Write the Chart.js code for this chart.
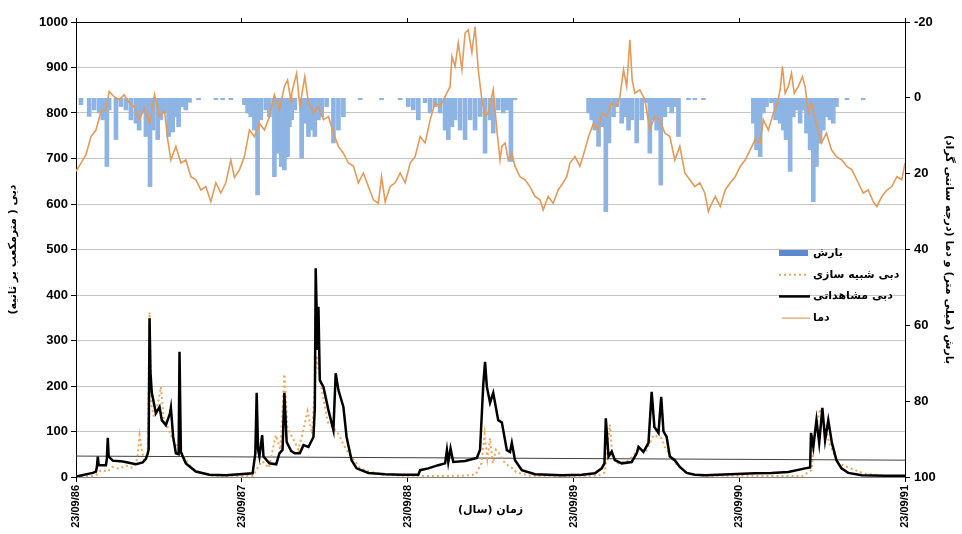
<!DOCTYPE html>
<html>
<head>
<meta charset="utf-8">
<script src="https://cdn.jsdelivr.net/npm/chart.js@4.4.1/dist/chart.umd.min.js"></script>
<style>
  body { margin: 0; background: #fff; }
  #wrap { width: 962px; height: 534px; }
</style>
</head>
<body>
<div id="wrap"><canvas id="flowChart" width="962" height="534"></canvas></div>
<script>
// x is days since 23/09/86
const dayTicks = [0, 365, 731, 1096, 1461, 1826];
const tickLabels = ['23/09/86', '23/09/87', '23/09/88', '23/09/89', '23/09/90', '23/09/91'];

const seriesLabels = ['بارش', 'دبی شبیه سازی', 'دبی مشاهداتی', 'دما'];

// observed discharge (m3/s)
const obsDays = [0, 37, 44, 46, 48, 50, 66, 68, 70, 72, 81, 103, 132, 147, 154, 158, 160, 162, 164, 167,
  176, 184, 189, 198, 207, 209, 214, 220, 226, 228, 231, 242, 264, 294, 330, 389, 395, 398, 401, 404,
  410, 413, 426, 441, 448, 455, 459, 464, 474, 482, 493, 501, 512, 523, 526, 528, 532, 534, 537, 545,
  556, 567, 572, 578, 589, 596, 607, 618, 644, 681, 717, 754, 758, 776, 798, 813, 817, 820, 825, 831,
  857, 883, 890, 897, 901, 905, 912, 919, 930, 938, 949, 956, 960, 967, 982, 1011, 1070, 1114, 1143, 1158,
  1164, 1167, 1173, 1180, 1187, 1202, 1224, 1235, 1239, 1250, 1261, 1268, 1274, 1283, 1289, 1294, 1301, 1308, 1319, 1330,
  1345, 1363, 1386, 1496, 1532, 1569, 1606, 1617, 1619, 1624, 1631, 1637, 1644, 1650, 1657, 1665, 1675, 1686, 1701, 1731,
  1782, 1826];
const obsFlow = [1, 9, 12, 22, 45, 26, 26, 40, 86, 45, 36, 34, 28, 32, 40, 52, 60, 349, 230, 185,
  140, 154, 125, 114, 140, 152, 88, 52, 50, 275, 55, 30, 12, 5, 4, 8, 52, 185, 60, 45,
  92, 45, 30, 28, 52, 60, 185, 77, 57, 52, 52, 70, 66, 88, 150, 459, 279, 374, 213, 198,
  147, 103, 228, 191, 154, 88, 37, 19, 9, 6, 5, 5, 15, 19, 26, 30, 59, 33, 63, 33,
  35, 42, 60, 202, 253, 198, 163, 185, 125, 120, 59, 55, 75, 37, 15, 6, 4, 5, 8, 19,
  30, 129, 45, 56, 37, 30, 33, 52, 66, 55, 75, 187, 110, 97, 176, 100, 88, 45, 37, 22,
  9, 5, 4, 8, 9, 11, 19, 21, 97, 66, 125, 75, 152, 81, 125, 75, 37, 19, 9, 4,
  3, 3];

// simulated discharge (m3/s)
const simDays = [0, 37, 45, 55, 70, 80, 95, 110, 125, 135, 140, 145, 150, 158, 162, 166, 172, 180, 187, 193,
  200, 210, 220, 230, 240, 255, 270, 300, 390, 400, 410, 425, 440, 450, 459, 466, 478, 490, 500, 510,
  520, 530, 535, 545, 555, 565, 575, 585, 595, 607, 625, 645, 680, 720, 800, 850, 880, 893, 900, 906,
  912, 918, 925, 930, 945, 960, 970, 1000, 1150, 1165, 1176, 1182, 1195, 1215, 1240, 1255, 1272, 1290, 1297, 1320,
  1348, 1380, 1600, 1620, 1628, 1639, 1650, 1661, 1679, 1709, 1738, 1780, 1826];
const simFlow = [0, 2, 5, 15, 12, 22, 18, 25, 20, 40, 92, 60, 35, 50, 362, 160, 130, 160, 198, 130,
  115, 90, 70, 60, 40, 20, 10, 3, 2, 20, 35, 20, 92, 60, 226, 105, 85, 60, 100, 145,
  95, 267, 230, 170, 120, 110, 100, 80, 60, 45, 20, 12, 5, 3, 2, 3, 5, 30, 95, 40,
  85, 30, 60, 55, 30, 20, 10, 3, 3, 10, 115, 40, 30, 35, 60, 55, 92, 85, 66, 30,
  8, 3, 2, 15, 97, 150, 110, 70, 30, 18, 7, 2, 1];

// temperature (deg C), right axis
const tempDays = [0, 11, 22, 33, 44, 55, 66, 73, 84, 95, 106, 117, 128, 139, 151, 162, 173, 184, 195, 202,
  209, 220, 231, 242, 253, 264, 275, 286, 297, 308, 319, 330, 341, 349, 360, 371, 382, 393, 404, 415,
  426, 437, 448, 459, 466, 474, 475, 486, 493, 504, 512, 523, 534, 545, 556, 567, 578, 589, 600, 611,
  622, 633, 644, 655, 666, 673, 681, 692, 703, 714, 725, 736, 747, 758, 769, 780, 791, 802, 813, 824,
  828, 835, 842, 850, 857, 864, 872, 879, 886, 894, 901, 908, 919, 927, 934, 938, 945, 952, 960, 967,
  978, 989, 1000, 1011, 1022, 1029, 1040, 1051, 1062, 1073, 1081, 1088, 1099, 1110, 1121, 1129, 1140, 1151, 1158, 1169,
  1180, 1191, 1198, 1206, 1213, 1220, 1225, 1231, 1242, 1253, 1264, 1275, 1286, 1297, 1308, 1319, 1330, 1341, 1352, 1363,
  1374, 1385, 1393, 1397, 1408, 1419, 1430, 1441, 1452, 1463, 1474, 1485, 1496, 1507, 1514, 1525, 1536, 1543, 1551, 1556,
  1562, 1569, 1576, 1582, 1591, 1600, 1606, 1613, 1620, 1631, 1642, 1653, 1664, 1675, 1687, 1698, 1709, 1723, 1734, 1745,
  1756, 1764, 1775, 1786, 1797, 1808, 1819, 1826];
const tempC = [19.4, 17.2, 15, 10.2, 8.5, 3.6, 3.2, -1.7, -0.3, 0.5, -0.8, 1.3, 2.3, 5.8, 2.7, 6.7, -0.8, 4.9, 3.6, 11,
  16.4, 12.8, 17.2, 16.4, 20.8, 21.6, 24.3, 23.4, 27.4, 22.4, 25.1, 22.4, 16.4, 21, 19, 15.5, 8.5, 10.2, 6.7, 8.5,
  4.9, -0.8, 3.2, -3, -4.7, 1.3, -1.2, -6.5, 2.3, -5.6, 1.3, 4, 2.3, 5.8, 4.9, 9.3, 12.8, 14.6, 17.2, 18,
  22.4, 19.8, 23.4, 26.9, 27.8, 20.8, 27.4, 23.4, 22.4, 19.8, 22.4, 17.2, 15.5, 10.2, 11.9, 5.8, 1.3, 2.3, -0.3, -3,
  -10.9, -8.3, -14.5, -7.4, -17.1, -17.9, -12, -18.8, -7.4, 0.5, 4.9, 4, -2.1, 8.5, 16.4, 12.8, 11.9, 16.4, 14.6, 18.1,
  20.8, 21.6, 23.4, 26, 26.9, 29.6, 26, 27.8, 24.3, 22.4, 20.8, 17.2, 15.5, 18.1, 13.7, 10.2, 6.7, 8.5, 4, 4.9,
  1.3, 2.3, -0.3, -7.4, -3, -15.3, -4.7, -1.2, -2.1, 0.5, 8.5, 4.9, 5.8, 9.3, 10.2, 16.4, 12.8, 19.8, 21.6, 23.4,
  22.4, 25.1, 30, 28.7, 26, 28.7, 24.3, 22.4, 20.8, 18.1, 16.4, 13.7, 11, 11.9, 5.8, 8.5, 4, 2.3, -2.1, -8.3,
  -1.2, -3, -6.5, -1.2, -3, -5.6, -3, 4, 1.3, 6.7, 11.9, 9.3, 13.7, 15.5, 16.4, 18.1, 19, 22.4, 25.1, 24.3,
  27.4, 28.7, 26, 24.3, 23.4, 20.8, 21.6, 17.2];

// daily precipitation (mm), right axis
const rainDays = [11, 29, 40, 51, 59, 68, 73, 88, 99, 110, 121, 132, 139, 147, 154, 163, 170, 180, 187, 195,
  204, 213, 220, 226, 235, 242, 250, 270, 308, 323, 341, 371, 378, 385, 393, 400, 407, 418, 426, 437,
  444, 452, 459, 466, 470, 475, 482, 497, 504, 512, 519, 526, 534, 541, 552, 567, 578, 589, 626, 673,
  714, 732, 743, 754, 769, 780, 791, 802, 813, 820, 828, 835, 846, 857, 868, 879, 890, 901, 912, 919,
  930, 941, 949, 958, 967, 1129, 1136, 1143, 1151, 1158, 1167, 1174, 1184, 1191, 1202, 1209, 1217, 1224, 1235, 1246,
  1257, 1264, 1272, 1279, 1288, 1297, 1305, 1312, 1319, 1327, 1349, 1363, 1382, 1492, 1499, 1507, 1514, 1521, 1532, 1541,
  1551, 1558, 1564, 1573, 1580, 1587, 1595, 1602, 1609, 1617, 1624, 1631, 1639, 1646, 1653, 1661, 1668, 1675, 1698, 1734];
const rainMm = [1.8, 4.9, 3.2, 4, 5.8, 18.1, 3.2, 11, 2.3, 3.2, 5.8, 6.7, 8.5, 4, 10.2, 23.4, 8.5, 11, 5.8, 4,
  10.2, 9, 5, 7.6, 2.3, 3.2, 1.2, 0.5, 0.5, 0.5, 0.5, 1.8, 4, 5, 8.5, 25.6, 5.8, 3.2, 5, 20.8,
  14.6, 18.1, 19, 15.5, 7.6, 5.8, 3.2, 15.9, 6.7, 10.2, 8.5, 10.2, 5.8, 5, 2.3, 11.9, 8.5, 5, 0.5, 0.5,
  0.5, 2.3, 3.2, 5.8, 1.3, 4, 2.3, 4, 8.5, 11, 7.6, 5.8, 8.5, 11, 5.8, 8.5, 4.9, 14.6, 5.8, 9.3,
  3.2, 4, 3.2, 16.8, 0.5, 4, 5.8, 8.5, 12.8, 7.6, 30, 11.9, 5, 2.3, 6.7, 5, 8.5, 5.8, 11.9, 5.8,
  1.3, 14.6, 5.8, 8.5, 23, 5, 2.3, 4, 2.3, 10.2, 0.5, 0.5, 0.5, 6.7, 13.7, 15.5, 4, 2.3, 1.3, 5.8,
  6.7, 8.5, 11, 19.4, 5, 3.2, 6.7, 3.2, 9.3, 13.7, 27.4, 18.1, 12, 8.5, 5, 5.8, 6.7, 2.3, 0.5, 0.5];

// thin reference line across the lower panel
const refDays = [0, 1826];
const refFlow = [46, 37];

const toPoints = (xs, ys) => xs.map((x, i) => ({ x: x, y: ys[i] }));

Chart.defaults.font.family = "'Liberation Sans', 'DejaVu Sans', sans-serif";
Chart.defaults.color = '#000';

// legend drawn inside the plot, symbol on the left of each label
const insideLegend = {
    id: 'insideLegend',
    afterDraw(chart) {
        const ctx = chart.ctx;
        const x0 = 779, x1 = 808, tx = 813;
        let y = 253;
        ctx.save();
        seriesLabels.forEach((label, i) => {
            ctx.beginPath();
            if (i === 0) {
                ctx.fillStyle = '#5b8ad0';
                ctx.fillRect(x0, y - 3, x1 - x0, 6);
            } else if (i === 1) {
                ctx.strokeStyle = '#eea55c';
                ctx.lineWidth = 2;
                ctx.setLineDash([2, 3]);
                ctx.moveTo(x0, y); ctx.lineTo(x1, y); ctx.stroke();
                ctx.setLineDash([]);
            } else if (i === 2) {
                ctx.strokeStyle = '#000';
                ctx.lineWidth = 2.5;
                ctx.moveTo(x0, y); ctx.lineTo(x1 + 2, y); ctx.stroke();
            } else {
                ctx.strokeStyle = '#e6a06a';
                ctx.lineWidth = 1.3;
                ctx.moveTo(x0 + 3, y); ctx.lineTo(x1 + 2, y); ctx.stroke();
            }
            ctx.fillStyle = '#000';
            ctx.font = "bold 11px 'DejaVu Sans', sans-serif";
            ctx.textAlign = 'left';
            ctx.textBaseline = 'middle';
            ctx.fillText(label, tx, y);
            y += 21.7;
        });
        ctx.restore();
    }
};

const yearTicks = scale => { scale.ticks = dayTicks.map(v => ({ value: v })); };
const titleFont = { size: 11, weight: 'bold', family: "'DejaVu Sans', sans-serif" };

new Chart(document.getElementById('flowChart'), {
    type: 'line',
    data: {
        datasets: [
            {
                label: 'ref',
                data: toPoints(refDays, refFlow),
                yAxisID: 'y',
                borderColor: '#404040',
                borderWidth: 1,
                pointRadius: 0,
                order: 5
            },
            {
                type: 'bar',
                label: seriesLabels[0],
                data: toPoints(rainDays, rainMm),
                yAxisID: 'y2',
                backgroundColor: '#8db4e2',
                barThickness: 4,
                order: 4
            },
            {
                label: seriesLabels[3],
                data: toPoints(tempDays, tempC),
                yAxisID: 'y2',
                borderColor: '#e39a5a',
                borderWidth: 1.6,
                pointRadius: 0,
                order: 3
            },
            {
                label: seriesLabels[1],
                data: toPoints(simDays, simFlow),
                yAxisID: 'y',
                borderColor: '#eea55c',
                borderWidth: 2,
                borderDash: [2, 3],
                pointRadius: 0,
                order: 2
            },
            {
                label: seriesLabels[2],
                data: toPoints(obsDays, obsFlow),
                yAxisID: 'y',
                borderColor: '#000',
                borderWidth: 2.5,
                pointRadius: 0,
                order: 1
            }
        ]
    },
    options: {
        responsive: false,
        animation: false,
        layout: { padding: 0 },
        plugins: {
            legend: { display: false },
            tooltip: { enabled: false }
        },
        scales: {
            x: {
                type: 'linear',
                position: 'bottom',
                min: 0,
                max: 1826,
                offset: false,
                afterBuildTicks: yearTicks,
                afterFit: s => { s.height = 57; },
                ticks: {
                    autoSkip: false,
                    minRotation: 90,
                    maxRotation: 90,
                    padding: 3,
                    font: { size: 11, weight: 'bold' },
                    callback: v => tickLabels[dayTicks.indexOf(v)] || ''
                },
                grid: { drawOnChartArea: false, offset: false, color: '#000', tickLength: 5 },
                border: { color: '#808080' },
                title: { display: true, text: 'زمان (سال)', font: titleFont, padding: { top: 0, bottom: 17 } }
            },
            x2: {
                type: 'linear',
                position: 'top',
                min: 0,
                max: 1826,
                offset: false,
                afterBuildTicks: yearTicks,
                afterFit: s => { s.height = 22; },
                ticks: { display: false },
                grid: { drawOnChartArea: false, offset: false, color: '#000', tickLength: 4 },
                border: { color: '#000' }
            },
            y: {
                position: 'left',
                min: 0,
                max: 1000,
                afterFit: s => { s.width = 76; },
                ticks: { stepSize: 100, padding: 3, font: { size: 13, weight: 'bold' }, callback: v => String(v) },
                grid: { color: '#c4c4c4', tickColor: '#000', tickLength: 5 },
                border: { color: '#000' },
                title: { display: true, text: 'دبی ( مترمکعب بر ثانیه)', font: titleFont, padding: { top: 7, bottom: 0 } }
            },
            y2: {
                position: 'right',
                reverse: true,
                min: -20,
                max: 100,
                afterFit: s => { s.width = 57; },
                ticks: { stepSize: 20, padding: 4, font: { size: 13, weight: 'bold' } },
                grid: { drawOnChartArea: false, color: '#000', tickLength: 5 },
                border: { color: '#000' },
                title: { display: true, text: 'بارش (میلی متر) و دما (درجه سانتی گراد)', font: titleFont, padding: { top: 7, bottom: 0 } }
            }
        }
    },
    plugins: [insideLegend]
});
</script>
</body>
</html>
